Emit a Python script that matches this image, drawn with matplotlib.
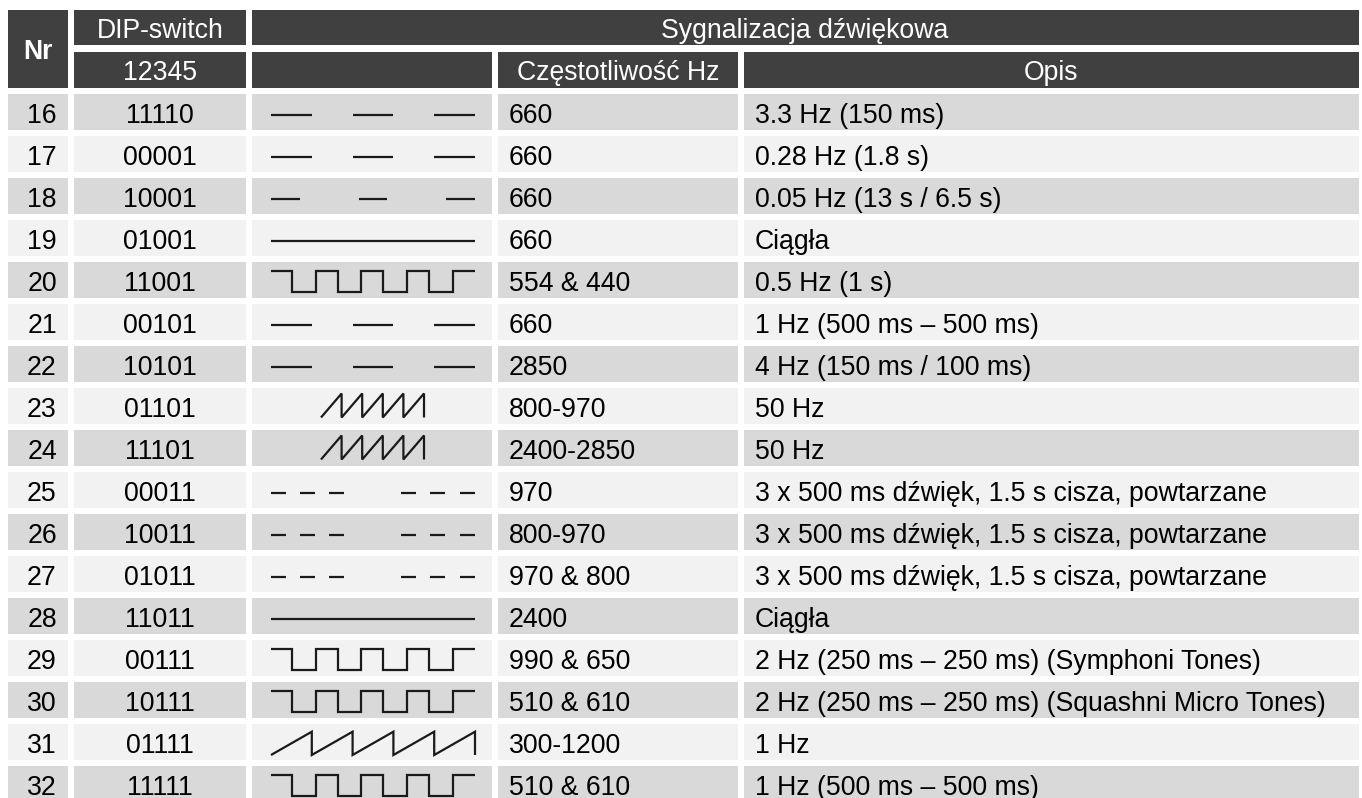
import matplotlib
matplotlib.use("Agg")
import matplotlib.pyplot as plt
from matplotlib.patches import Rectangle

plt.rcParams['font.family'] = ['Liberation Sans', 'DejaVu Sans']

# table data
nr = [16, 17, 18, 19, 20, 21, 22, 23, 24, 25, 26, 27, 28, 29, 30, 31, 32]
dip = ["11110", "00001", "10001", "01001", "11001", "00101", "10101", "01101",
       "11101", "00011", "10011", "01011", "11011", "00111", "10111", "01111", "11111"]
wave = ["dash", "dash", "dash_short", "solid", "square", "dash", "dash", "saw_short",
        "saw_short", "dash6", "dash6", "dash6", "solid", "square", "square", "saw_long", "square"]
freq = ["660", "660", "660", "660", "554 & 440", "660", "2850", "800-970",
        "2400-2850", "970", "800-970", "970 & 800", "2400", "990 & 650", "510 & 610",
        "300-1200", "510 & 610"]
opis = ["3.3 Hz (150 ms)", "0.28 Hz (1.8 s)", "0.05 Hz (13 s / 6.5 s)", "Ciągła",
        "0.5 Hz (1 s)", "1 Hz (500 ms – 500 ms)", "4 Hz (150 ms / 100 ms)", "50 Hz", "50 Hz",
        "3 x 500 ms dźwięk, 1.5 s cisza, powtarzane",
        "3 x 500 ms dźwięk, 1.5 s cisza, powtarzane",
        "3 x 500 ms dźwięk, 1.5 s cisza, powtarzane",
        "Ciągła", "2 Hz (250 ms – 250 ms) (Symphoni Tones)",
        "2 Hz (250 ms – 250 ms) (Squashni Micro Tones)", "1 Hz", "1 Hz (500 ms – 500 ms)"]

W, H = 1362, 798
HEAD = "#404040"
ROW_DARK = "#d9d9d9"
ROW_LIGHT = "#f2f2f2"
INK = "#1a1a1a"
FS = 19.2

# column edges (px)
cols = [(8, 68), (74, 246), (252, 492), (498, 738), (744, 1359)]

fig = plt.figure(figsize=(W / 100, H / 100), dpi=100)
ax = fig.add_axes([0, 0, 1, 1])
ax.set_xlim(0, W)
ax.set_ylim(H, 0)
ax.axis("off")


def box(x0, x1, y0, y1, color):
    ax.add_patch(Rectangle((x0, y0), x1 - x0, y1 - y0, facecolor=color, edgecolor="none"))


# header
box(8, 68, 10, 88, HEAD)
box(74, 246, 10, 45, HEAD)
box(252, 1359, 10, 45, HEAD)
box(74, 246, 52, 88, HEAD)
box(252, 492, 52, 88, HEAD)
box(498, 738, 52, 88, HEAD)
box(744, 1359, 52, 88, HEAD)
ax.text(38, 59, "Nr", color="white", fontsize=FS, fontweight="bold", ha="center", va="baseline")
ax.text(160, 37.7, "DIP-switch", color="white", fontsize=FS, ha="center", va="baseline")
ax.text(805, 37.7, "Sygnalizacja dźwiękowa", color="white", fontsize=FS, ha="center", va="baseline")
ax.text(160, 80, "12345", color="white", fontsize=FS, ha="center", va="baseline")
ax.text(618, 80, "Częstotliwość Hz", color="white", fontsize=FS, ha="center", va="baseline")
ax.text(1051, 80, "Opis", color="white", fontsize=FS, ha="center", va="baseline")


def draw_wave(kind, yc):
    x0, x1 = 271, 475
    span = x1 - x0
    kw = dict(color=INK, lw=1.6, solid_capstyle="butt", solid_joinstyle="miter")
    y = yc + 3
    if kind == "solid":
        ax.plot([x0, x1], [y, y], **kw)
    elif kind == "dash":
        for s in (0, 0.4, 0.8):
            ax.plot([x0 + s * span, x0 + (s + 0.2) * span], [y, y], **kw)
    elif kind == "dash_short":
        for s in (0, 0.429, 0.858):
            ax.plot([x0 + s * span, x0 + (s + 0.142) * span], [y, y], **kw)
    elif kind == "dash6":
        for s in (0, 29, 58, 130, 159, 189):
            ax.plot([x0 + s, x0 + s + 14.5], [y, y], **kw)
    elif kind == "square":
        hi, lo = yc - 9.5, yc + 12
        edges = [x0, 292, 316, 338, 361, 383, 407, 429, 453, x1]
        xs, ys = [x0], [hi]
        level = hi
        for e in edges[1:-1]:
            xs += [e, e]
            ys += [level, lo if level == hi else hi]
            level = ys[-1]
        xs.append(x1)
        ys.append(level)
        ax.plot(xs, ys, **kw)
    elif kind in ("saw_short", "saw_long"):
        if kind == "saw_short":
            a, b, lo, hi = 321, 424, yc + 11.5, yc - 12.5
        else:
            a, b, lo, hi = x0, x1, yc + 13, yc - 10.3
        step = (b - a) / 5
        xs, ys = [a], [lo]
        for k in range(1, 6):
            xk = a + k * step
            xs += [xk, xk]
            ys += [hi, lo]
        ax.plot(xs, ys, **kw)


for i in range(len(nr)):
    top = 94 + 42 * i
    bot = top + 36
    color = ROW_DARK if i % 2 == 0 else ROW_LIGHT
    for (c0, c1) in cols:
        box(c0, c1, top, bot, color)
    base = top + 28.7
    ax.text(42, base, str(nr[i]), fontsize=FS, color="black", ha="center", va="baseline")
    ax.text(160, base, dip[i], fontsize=FS, color="black", ha="center", va="baseline")
    ax.text(509, base, freq[i], fontsize=FS, color="black", ha="left", va="baseline")
    ax.text(755, base, opis[i], fontsize=FS, color="black", ha="left", va="baseline")
    draw_wave(wave[i], top + 18)

fig.savefig("out.png", dpi=100)
